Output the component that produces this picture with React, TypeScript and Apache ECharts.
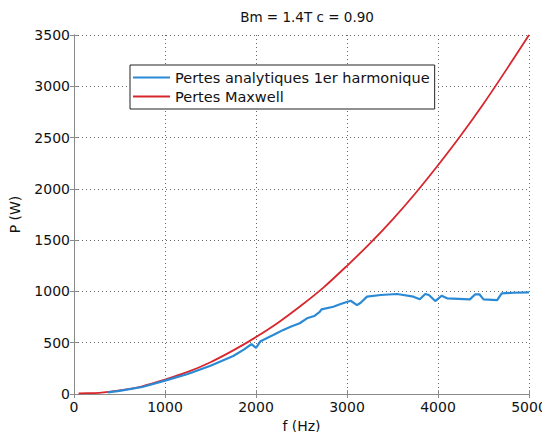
import React, { useEffect, useRef } from "react";
import * as echarts from "echarts";

const titleText = "Bm = 1.4T c = 0.90";
const xName = "f (Hz)";
const yName = "P (W)";
const seriesNames = ["Pertes analytiques 1er harmonique", "Pertes Maxwell"];

const maxwellFreq = [50, 150, 300, 500, 750, 1000, 1250, 1500, 1750, 2000, 2250, 2500, 2750, 3000, 3250, 3500, 3750, 4000, 4250, 4500, 4750, 5000];
const maxwellValues = [6, 8, 14, 35, 75, 140, 215, 310, 425, 555, 700, 865, 1045, 1250, 1465, 1700, 1955, 2230, 2520, 2830, 3160, 3500];

const harmFreq = [370, 500, 750, 1000, 1250, 1500, 1750, 1870, 1950, 2000, 2050, 2200, 2300, 2380, 2480, 2560, 2640, 2700, 2720, 2850, 2930, 3040, 3110, 3150, 3220, 3370, 3550, 3730, 3800, 3860, 3900, 3970, 4040, 4100, 4350, 4410, 4455, 4500, 4650, 4700, 4830, 5000];
const harmValues = [15, 30, 68, 130, 195, 275, 370, 435, 487, 450, 515, 580, 625, 656, 690, 738, 760, 800, 825, 851, 877, 909, 867, 890, 949, 965, 975, 949, 923, 975, 965, 906, 958, 933, 923, 972, 972, 923, 916, 981, 987, 991];

const FONT = "DejaVu Sans";

export default function App() {
  const ref = useRef<HTMLDivElement>(null);
  useEffect(() => {
    if (!ref.current) return;
    const chart = echarts.init(ref.current, null, { renderer: "svg" });
    const gridLine = { show: true, lineStyle: { color: "#666", type: [1, 3] as any, width: 1 } };
    const axisLine = { show: true, lineStyle: { color: "#8a8a8a", width: 1 } };
    const plain = (v: number) => String(v);
    chart.setOption({
      animation: false,
      backgroundColor: "#fff",
      title: {
        text: titleText,
        left: 302,
        top: 5,
        textAlign: "center",
        textStyle: { fontFamily: FONT, fontSize: 13.5, fontWeight: "normal", color: "#111" },
      },
      grid: { left: 73, right: 21, top: 35, bottom: 46, containLabel: false },
      legend: {
        orient: "vertical",
        left: 130,
        top: 65,
        backgroundColor: "#fff",
        borderColor: "#222",
        borderWidth: 1,
        borderRadius: 0,
        padding: [5, 5, 5, 3],
        itemGap: 4,
        itemWidth: 37,
        itemHeight: 2,
        icon: "rect",
        textStyle: { fontFamily: FONT, fontSize: 14.5, color: "#111" },
        data: seriesNames,
      },
      xAxis: [
        {
          type: "value",
          min: 0,
          max: 5000,
          interval: 1000,
          name: xName,
          nameLocation: "middle",
          nameGap: 25,
          nameTextStyle: { fontFamily: FONT, fontSize: 14, color: "#111" },
          axisLine,
          axisTick: { show: true, inside: true, length: 4, lineStyle: { color: "#8a8a8a" } },
          axisLabel: { fontFamily: FONT, fontSize: 14, color: "#111", margin: 6, formatter: plain },
          splitLine: gridLine,
        },
        {
          type: "value",
          position: "top",
          min: 0,
          max: 5000,
          interval: 1000,
          axisLine,
          axisTick: { show: true, inside: true, length: 4, lineStyle: { color: "#8a8a8a" } },
          axisLabel: { show: false },
          splitLine: { show: false },
        },
      ],
      yAxis: [
        {
          type: "value",
          min: 0,
          max: 3500,
          interval: 500,
          name: yName,
          nameLocation: "middle",
          nameGap: 52,
          nameTextStyle: { fontFamily: FONT, fontSize: 14, color: "#111" },
          axisLine,
          axisTick: { show: true, inside: true, length: 4, lineStyle: { color: "#8a8a8a" } },
          axisLabel: { fontFamily: FONT, fontSize: 14, color: "#111", margin: 4, formatter: plain },
          splitLine: gridLine,
        },
        {
          type: "value",
          position: "right",
          min: 0,
          max: 3500,
          interval: 500,
          axisLine,
          axisTick: { show: true, inside: true, length: 4, lineStyle: { color: "#8a8a8a" } },
          axisLabel: { show: false },
          splitLine: { show: false },
        },
      ],
      series: [
        {
          name: seriesNames[0],
          type: "line",
          symbol: "none",
          data: harmFreq.map((f, i) => [f, harmValues[i]]),
          lineStyle: { color: "#2a8ad6", width: 2.2 },
          itemStyle: { color: "#2a8ad6" },
          z: 3,
        },
        {
          name: seriesNames[1],
          type: "line",
          symbol: "none",
          smooth: 0.3,
          data: maxwellFreq.map((f, i) => [f, maxwellValues[i]]),
          lineStyle: { color: "#d8262d", width: 1.8 },
          itemStyle: { color: "#d8262d" },
          z: 2,
        },
      ],
    });
    return () => chart.dispose();
  }, []);
  return <div ref={ref} style={{ width: 550, height: 440, margin: -8 }} />;
}
